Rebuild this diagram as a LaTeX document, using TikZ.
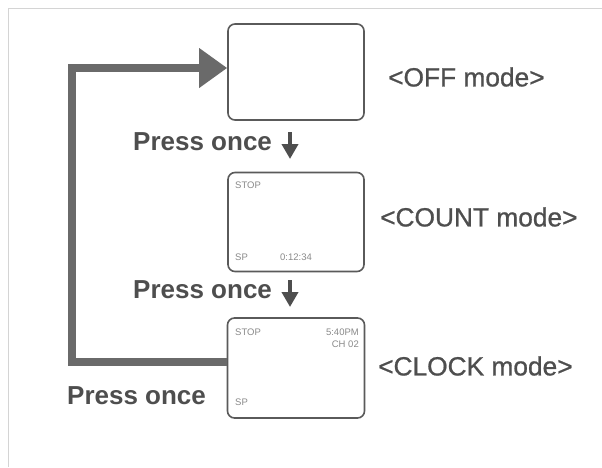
\documentclass[tikz,border=0pt]{standalone}
\usepackage{fontspec}
\setmainfont{Liberation Sans}
\newfontfamily\medfont[FakeBold=0.8]{Liberation Sans}
\usetikzlibrary{arrows.meta}
\definecolor{framec}{HTML}{D4D4D4}
\definecolor{boxc}{HTML}{5A5A5A}
\definecolor{loopc}{HTML}{6A6A6A}
\definecolor{txtc}{HTML}{4E4E4E}
\definecolor{lcdc}{HTML}{8A8A8A}
\tikzset{
  screen/.style={draw=boxc, line width=1.6pt, rounded corners=7pt, fill=white, inner sep=0pt},
  modelbl/.style={anchor=west, text=txtc, font=\medfont\fontsize{26.3}{29}\selectfont, inner sep=0pt},
  presslbl/.style={anchor=west, text=txtc, font=\fontsize{26}{29}\selectfont\bfseries, inner sep=0pt},
  lcd/.style={text=lcdc, font=\fontsize{9.5}{11}\selectfont, inner sep=0pt},
  downarrow/.style={draw=txtc, line width=4.5pt, -{Triangle[width=16pt,length=15pt]}},
  looparrow/.style={draw=loopc, line width=8pt, -{Triangle[width=38pt,length=28pt]}}
}
\begin{document}
\begin{tikzpicture}[x=1pt,y=-1pt]
\useasboundingbox[fill=white] (0,0) rectangle (602,467);
% frame
\draw[framec, line width=1pt] (8,467) -- (8,8) -- (602,8);
% screens
\node[screen, minimum width=136pt, minimum height=96pt] (off) at (296,72) {};
\node[screen, minimum width=136pt, minimum height=99pt] (count) at (296,222) {};
\node[screen, minimum width=137pt, minimum height=100pt] (clock) at (296,368) {};
% lcd texts
\node[lcd, anchor=west] (cstop) at (235,185) {STOP};
\node[lcd, anchor=west] (csp) at (235,257) {SP};
\node[lcd, anchor=west] (ctime) at (280,257) {0:12:34};
\node[lcd, anchor=west] (kstop) at (235,332) {STOP};
\node[lcd, anchor=east] (ktime) at (359,332) {5:40PM};
\node[lcd, anchor=east] (kch) at (359,344) {CH 02};
\node[lcd, anchor=west] (ksp) at (235,402) {SP};
% mode labels
\node[modelbl] (offlbl) at (388,77) {<OFF mode>};
\node[modelbl] (countlbl) at (380,217) {<COUNT mode>};
\node[modelbl] (clocklbl) at (378,366) {<CLOCK mode>};
% press labels
\node[presslbl] (p1) at (133,142) {Press once};
\node[presslbl] (p2) at (133,290) {Press once};
\node[presslbl] (p3) at (67,396) {Press once};
% small down arrows
\coordinate (a1s) at (290,132);
\coordinate (a1e) at (290,159);
\coordinate (a2s) at (290,280);
\coordinate (a2e) at (290,307);
\draw[downarrow] (a1s) -- (a1e);
\draw[downarrow] (a2s) -- (a2e);
% return loop
\coordinate (ls) at ([yshift=6pt]clock.west);
\coordinate (le) at ([yshift=4pt]off.west);
\draw[looparrow] (ls) -- (72,362) -- (72,68) -- (le);
\end{tikzpicture}
\end{document}
